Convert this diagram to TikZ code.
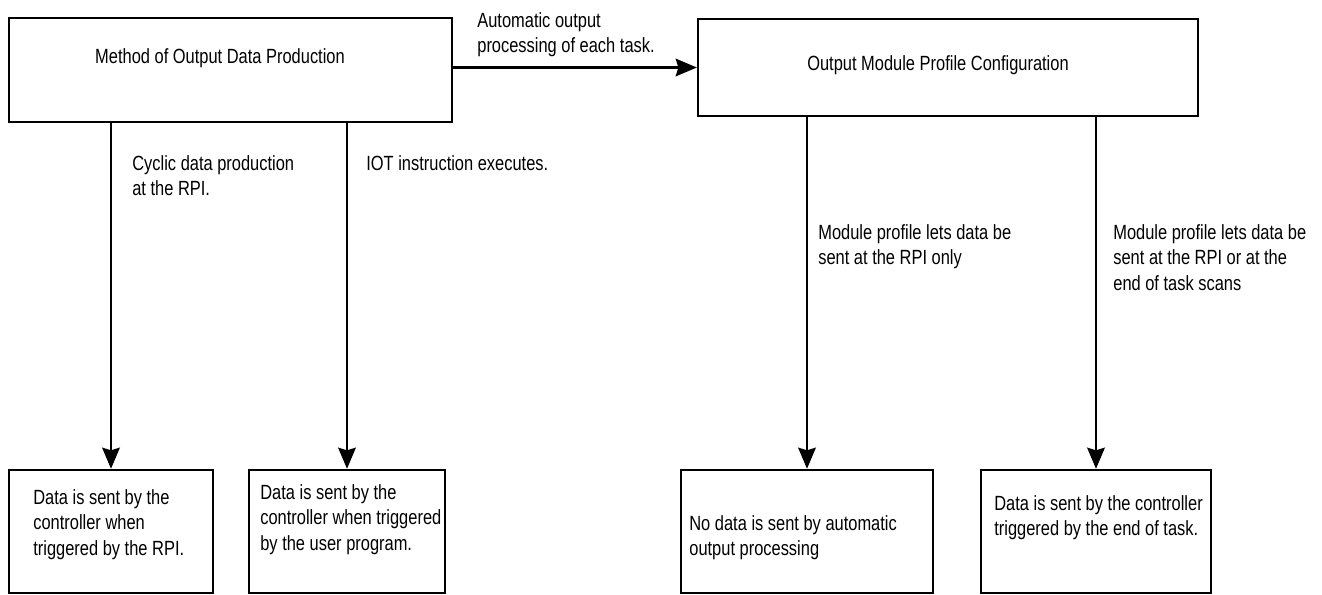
\documentclass[tikz,border=0pt]{standalone}
\usepackage{fontspec}
\setmainfont{Liberation Sans}[FakeStretch=0.8]
\usetikzlibrary{arrows.meta}

\begin{document}
\begin{tikzpicture}[x=0.02cm,y=-0.02cm,>={Stealth[length=12pt,width=10pt,inset=1.5pt]},
  box/.style={draw,line width=1.4pt,inner sep=0pt},
  txt/.style={inner sep=0pt,align=left,anchor=north west,font=\fontsize{11.7}{14.5}\selectfont},
  flow/.style={->,line width=1.4pt}]
\useasboundingbox (0,0) rectangle (1322,595);
\node[box,minimum width=8.86cm,minimum height=2.08cm] (prod) at (230.5,70) {};
\node[box,minimum width=10cm,minimum height=1.94cm] (cfg) at (948,67.5) {};
\node[box,minimum width=4.08cm,minimum height=2.46cm] (rpi) at (111,531.5) {};
\node[box,minimum width=3.92cm,minimum height=2.46cm] (user) at (347,531.5) {};
\node[box,minimum width=5.04cm,minimum height=2.46cm] (none) at (807,531.5) {};
\node[box,minimum width=4.6cm,minimum height=2.46cm] (endtask) at (1096,531.5) {};
\node[txt,anchor=center] (prodtxt) at (220,58) {Method of Output Data Production};
\node[txt,anchor=center] (cfgtxt) at (938,65) {Output Module Profile Configuration};
\draw[flow] (prod.east |- cfg.west) -- (cfg.west);
\draw[flow] (prod.south -| rpi.north) -- (rpi.north);
\draw[flow] (prod.south -| user.north) -- (user.north);
\draw[flow] (cfg.south -| none.north) -- (none.north);
\draw[flow] (cfg.south -| endtask.north) -- (endtask.north);
\node[txt] (autolbl) at (477,12) {Automatic output\\processing of each task.};
\node[txt] (cyclbl) at (132,155) {Cyclic data production\\at the RPI.};
\node[txt] (iotlbl) at (366,155) {IOT instruction executes.};
\node[txt] (onlylbl) at (818,224) {Module profile lets data be\\sent at the RPI only};
\node[txt] (scanlbl) at (1113,224) {Module profile lets data be\\sent at the RPI or at the\\end of task scans};
\node[txt] (rpitxt) at (33,489) {Data is sent by the\\controller when\\triggered by the RPI.};
\node[txt] (usertxt) at (260,484) {Data is sent by the\\controller when triggered\\by the user program.};
\node[txt] (nonetxt) at (689,515) {No data is sent by automatic\\output processing};
\node[txt] (endtasktxt) at (994,495) {Data is sent by the controller\\triggered by the end of task.};
\end{tikzpicture}
\end{document}
